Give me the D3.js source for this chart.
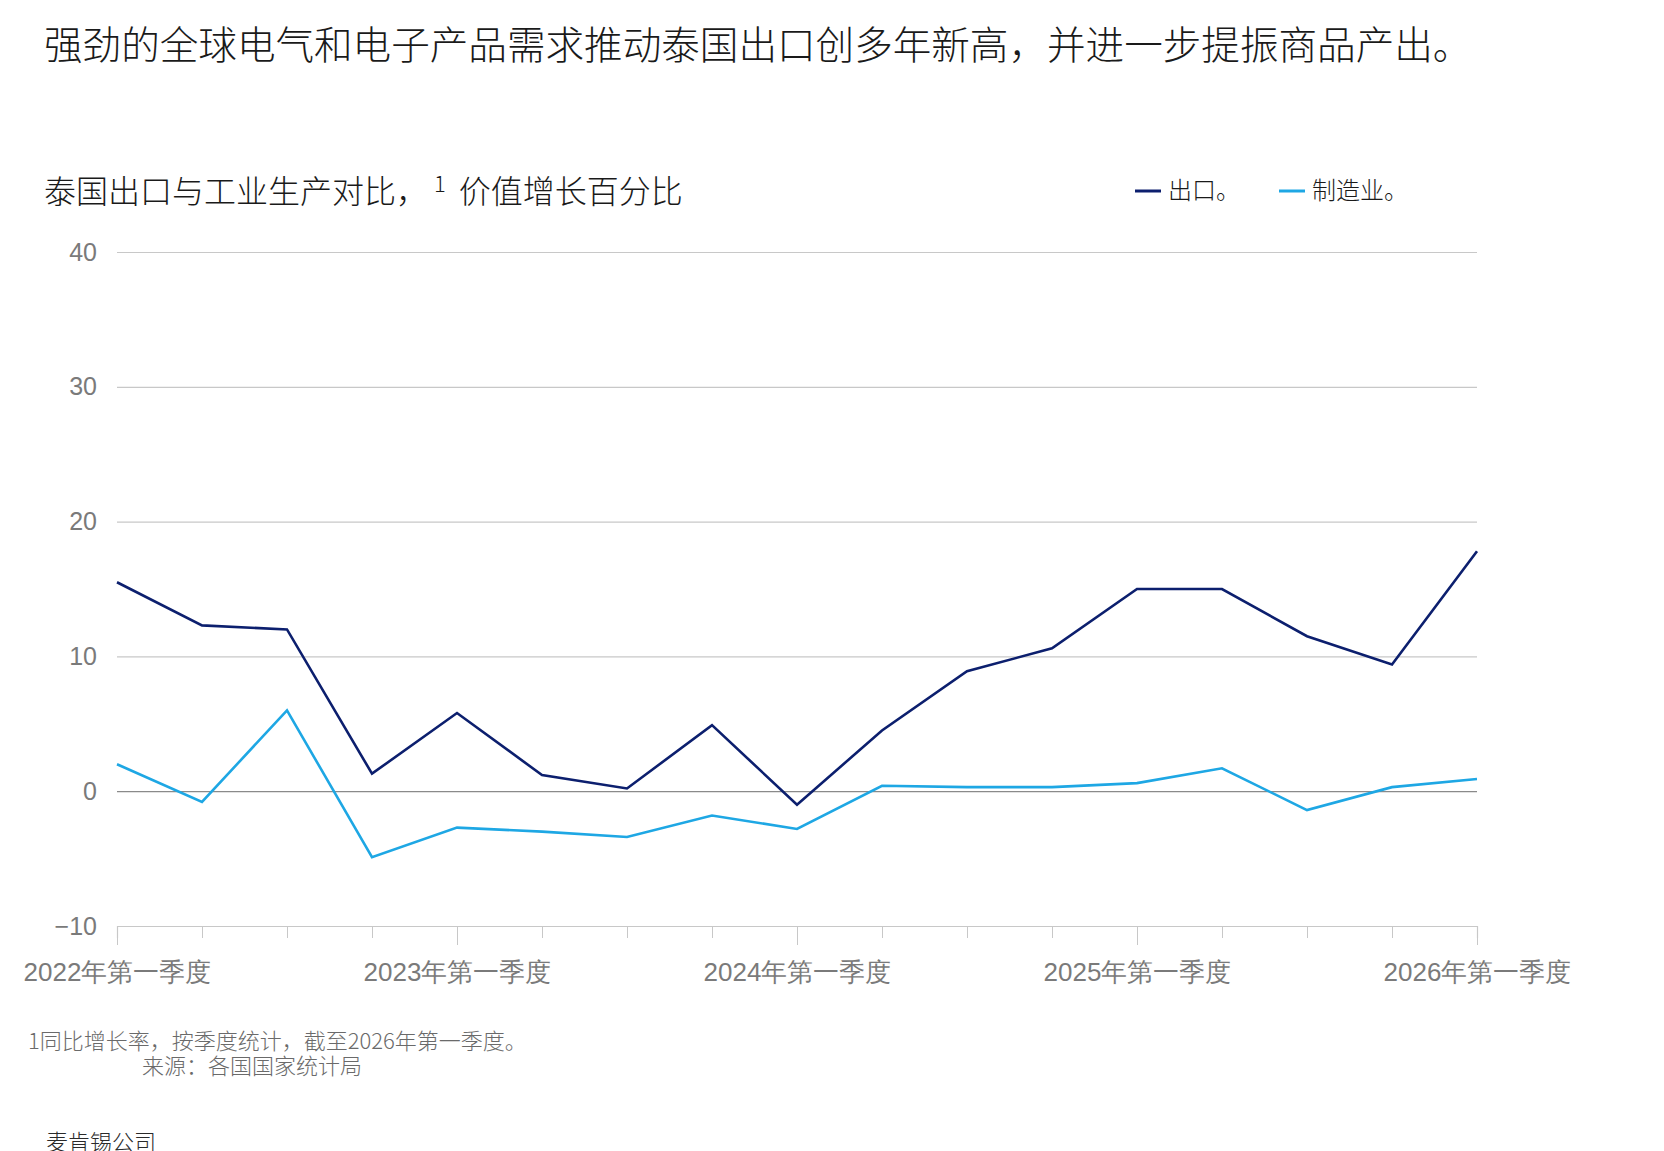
<!DOCTYPE html>
<html>
<head>
<meta charset="utf-8">
<script src="https://cdn.jsdelivr.net/npm/d3@7"></script>
<style>
  body { margin: 0; background: #fff; }
  svg { display: block; font-family: "Noto Sans CJK SC", "Noto Sans", sans-serif; font-weight: 300; }
</style>
</head>
<body>
<svg id="chart" width="1664" height="1151"></svg>
<script>
// quarters, 2022 Q1 .. 2026 Q1
var quarters = ["2022Q1","2022Q2","2022Q3","2022Q4","2023Q1","2023Q2","2023Q3","2023Q4",
  "2024Q1","2024Q2","2024Q3","2024Q4","2025Q1","2025Q2","2025Q3","2025Q4","2026Q1"];
var exportsGrowth = [15.5, 12.3, 12.0, 1.3, 5.8, 1.2, 0.2, 4.9, -1.0, 4.5, 8.9, 10.6, 15.0, 15.0, 11.5, 9.4, 17.8];
var manufacturingGrowth = [2.0, -0.8, 6.0, -4.9, -2.7, -3.0, -3.4, -1.8, -2.8, 0.4, 0.3, 0.3, 0.6, 1.7, -1.4, 0.3, 0.9];
var yTicks = [-10, 0, 10, 20, 30, 40];
var seriesNames = ["出口。", "制造业。"];
var seriesColors = ["#0c1f6e", "#1ea7e4"];

var svg = d3.select("#chart");

var margin = {left: 117, right: 187, top: 252, bottom: 225};
var width = 1664 - margin.left - margin.right,
    height = 1151 - margin.top - margin.bottom;

var x = d3.scalePoint().domain(quarters).range([0, width]);
var y = d3.scaleLinear().domain([-10, 40]).range([height, 0]);

// title
svg.append("text")
  .attr("x", 44).attr("y", 59)
  .attr("font-size", "38.6px")
  .attr("fill", "#1a1a1a")
  .text("强劲的全球电气和电子产品需求推动泰国出口创多年新高，并进一步提振商品产出。");

// subtitle with superscript
var sub = svg.append("text")
  .attr("x", 44).attr("y", 203)
  .attr("font-size", "32px")
  .attr("fill", "#1a1a1a");
sub.append("tspan").text("泰国出口与工业生产对比，");
sub.append("tspan").attr("font-size", "22px").attr("dy", "-11").attr("dx", "6").text("1");
sub.append("tspan").attr("dy", "11").attr("dx", "6").text(" 价值增长百分比");

// legend
var legend = svg.append("g").attr("class", "legend");
var legendX = [1135, 1279];
seriesNames.forEach(function(name, i) {
  var g = legend.append("g").attr("transform", "translate(" + legendX[i] + ",191)");
  g.append("line")
    .attr("x1", 0).attr("x2", 26)
    .attr("stroke", seriesColors[i]).attr("stroke-width", 3);
  g.append("text")
    .attr("x", 33).attr("dy", "0.35em")
    .attr("font-size", "24px")
    .attr("fill", "#1a1a1a")
    .text(name);
});

var plot = svg.append("g")
  .attr("transform", "translate(" + margin.left + "," + margin.top + ")");

// y axis + gridlines
var yAxis = plot.append("g")
  .call(d3.axisLeft(y).tickValues(yTicks).tickSize(-width).tickPadding(20));
yAxis.select(".domain").remove();
yAxis.selectAll(".tick line")
  .attr("stroke", function(d) { return d === 0 ? "#8a8a8a" : "#c8c8c8"; })
  .attr("stroke-width", 1.2);
yAxis.selectAll(".tick text")
  .attr("font-size", "25px")
  .attr("fill", "#7a7a7a");

// x axis
var xAxis = plot.append("g")
  .attr("transform", "translate(0," + height + ")")
  .call(d3.axisBottom(x).tickSize(12).tickPadding(10)
    .tickFormat(function(d) { return d.slice(4) === "Q1" ? d.slice(0, 4) + "年第一季度" : ""; }));
xAxis.select(".domain").attr("stroke", "#c8c8c8").attr("stroke-width", 1.2);
xAxis.selectAll(".tick line")
  .attr("stroke", "#c8c8c8")
  .attr("y2", function(d) { return d.slice(4) === "Q1" ? 19 : 12; });
xAxis.selectAll(".tick text")
  .attr("font-size", "26px")
  .attr("fill", "#7a7a7a")
  .attr("y", 37);

// lines
var line = d3.line()
  .x(function(d, i) { return x(quarters[i]); })
  .y(function(d) { return y(d); });

[exportsGrowth, manufacturingGrowth].forEach(function(vals, i) {
  plot.append("path")
    .datum(vals)
    .attr("fill", "none")
    .attr("stroke", seriesColors[i])
    .attr("stroke-width", 2.6)
    .attr("stroke-linejoin", "miter")
    .attr("d", line);
});

// footnotes
svg.append("text")
  .attr("x", 28).attr("y", 1049)
  .attr("font-size", "22px").attr("fill", "#6a6a6a")
  .text("1同比增长率，按季度统计，截至2026年第一季度。");
svg.append("text")
  .attr("x", 142).attr("y", 1074)
  .attr("font-size", "22px").attr("fill", "#6a6a6a")
  .text("来源：各国国家统计局");
svg.append("text")
  .attr("x", 46).attr("y", 1150)
  .attr("font-size", "22px").attr("fill", "#2a2a2a")
  .text("麦肯锡公司");
</script>
</body>
</html>
